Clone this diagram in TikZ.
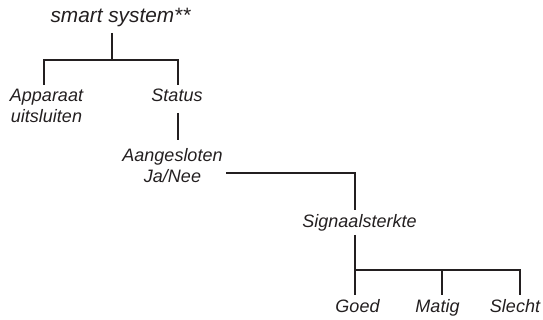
\documentclass[tikz,border=0pt]{standalone}
\usepackage{fontspec}
\setmainfont{Liberation Sans}
\usetikzlibrary{calc}
\definecolor{ink}{HTML}{231F20}
\begin{document}
\begin{tikzpicture}[x=1pt,y=-1pt,
  lbl/.style={anchor=base,inner sep=0pt,align=center,text=ink,
    font=\fontsize{18}{21}\selectfont\itshape},
  conn/.style={draw=ink,line width=2pt,line join=miter}]
\useasboundingbox (0,0) rectangle (543,320);
\node[lbl,font=\fontsize{20.8}{24}\selectfont\itshape] (root) at (120.5,23) {smart system**};
\node[lbl] (app) at (46.5,123) {Apparaat\\uitsluiten};
\node[lbl] (status) at (177,102) {Status};
\node[lbl] (aang) at (172.5,183) {Aangesloten\\Ja/Nee};
\node[lbl] (sig) at (359.5,228) {Signaalsterkte};
\node[lbl] (goed) at (357.5,312) {Goed};
\node[lbl] (matig) at (437.5,312) {Matig};
\node[lbl] (slecht) at (515,312) {Slecht};
\coordinate (j1) at (112,60);
\coordinate (j2) at (355,270);
\draw[conn] ($(root.base -| j1)+(0,10)$) -- (j1);
\draw[conn] ($(app.base)+(-2.5,-38)$) |- ($(status.base)+(1,-42)$) -- ($(status.base)+(1,-17)$);
\draw[conn] ($(status.base)+(1,11)$) -- ($(aang.base)+(5.5,-43)$);
\draw[conn] ($(aang.base)+(53.5,-10)$) -| ($(sig.base)+(-4.5,-18)$);
\draw[conn] ($(sig.base)+(-4.5,7)$) -- ($(goed.base)+(-2.5,-17)$);
\draw[conn] (j2) -| ($(slecht.base)+(5,-17)$);
\draw[conn] (j2 -| matig.base) ++(4.5,0) -- ($(matig.base)+(4.5,-17)$);
\end{tikzpicture}
\end{document}
